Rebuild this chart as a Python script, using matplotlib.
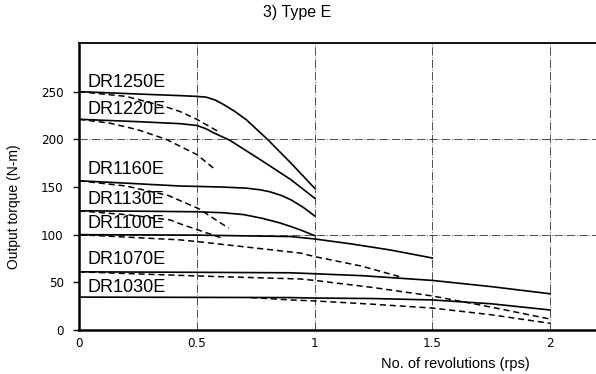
import matplotlib.pyplot as plt

# Torque curves (x = rps, y = N-m)
models = ['DR1250E', 'DR1220E', 'DR1160E', 'DR1130E', 'DR1100E', 'DR1070E', 'DR1030E']

x_1250 = [0, 0.25, 0.43, 0.5, 0.54, 0.58, 0.61, 0.66, 0.71, 0.8, 0.9, 1.0]
t_1250 = [250, 247.5, 245.8, 245, 244.2, 241, 237, 229.5, 220.6, 200, 175, 148.8]
x_1250d = [0, 0.2, 0.37, 0.43, 0.5, 0.6]
t_1250d = [250, 245, 234, 229, 221, 207]

x_1220 = [0, 0.25, 0.43, 0.5, 0.54, 0.57, 0.64, 0.78, 0.9, 1.0]
t_1220 = [221, 218.5, 216.4, 214.5, 211, 207, 199, 177, 157.6, 138.3]
x_1220d = [0, 0.13, 0.25, 0.37, 0.43, 0.5, 0.57]
t_1220d = [221, 217, 210, 200, 192.6, 184, 170]

x_1160 = [0, 0.2, 0.43, 0.6, 0.71, 0.77, 0.81, 0.86, 0.9, 0.95, 1.0]
t_1160 = [156.5, 154, 151, 150, 148.8, 147, 145, 141, 136.5, 129, 119.7]
x_1160d = [0, 0.2, 0.38, 0.51, 0.635]
t_1160d = [156.5, 151, 141, 127, 106.8]

x_1130 = [0, 0.3, 0.5, 0.61, 0.7, 0.78, 0.85, 0.9, 0.95, 1.0]
t_1130 = [125, 124.5, 124, 123, 121, 117, 112.5, 108.5, 104, 99]
x_1130d = [0, 0.2, 0.386, 0.43, 0.6]
t_1130d = [125, 121, 115.5, 111.3, 97]

x_1100 = [0, 0.5, 0.9, 1.0, 1.15, 1.32, 1.5]
t_1100 = [100, 99.5, 98, 95.5, 90.5, 84, 75.5]
x_1100d = [0, 0.43, 0.5, 0.82, 0.94, 1.0, 1.2, 1.36]
t_1100d = [100, 94.5, 92.8, 84, 80.7, 77, 67, 56]

x_1070 = [0, 0.5, 0.9, 1.2, 1.5, 1.75, 2.0]
t_1070 = [61, 60.5, 60, 57, 52, 45.5, 38]
x_1070d = [0, 0.5, 0.94, 1.0, 1.25, 1.5, 1.75, 2.0]
t_1070d = [61, 56.7, 53.5, 52, 44.5, 35.7, 24, 11.5]

x_1030 = [0, 0.9, 1.0, 1.25, 1.5, 1.75, 2.0]
t_1030 = [34.5, 34, 33.5, 33, 31.5, 27.5, 21]
x_1030d = [0.73, 0.9, 1.0, 1.25, 1.5, 1.75, 2.0]
t_1030d = [34, 31.5, 30.5, 27, 23, 16, 7]

label_y = [259.5, 231, 168, 136.5, 112, 73.5, 45]

x_ticks = [0, 0.5, 1, 1.5, 2]
x_ticklabels = ['0', '0.5', '1', '1.5', '2']
y_ticks = [0, 50, 100, 150, 200, 250]

solid = [(x_1250, t_1250), (x_1220, t_1220), (x_1160, t_1160), (x_1130, t_1130),
         (x_1100, t_1100), (x_1070, t_1070), (x_1030, t_1030)]
dashed = [(x_1250d, t_1250d), (x_1220d, t_1220d), (x_1160d, t_1160d), (x_1130d, t_1130d),
          (x_1100d, t_1100d), (x_1070d, t_1070d), (x_1030d, t_1030d)]

plt.rcParams['font.family'] = ['Liberation Sans', 'DejaVu Sans']

fig = plt.figure(figsize=(5.96, 3.74), dpi=100)
ax = fig.add_axes([79 / 596, 1 - 330 / 374, 1 - 79 / 596 + 0.002, (330 - 43) / 374])

# grid lines
grid_style = dict(color='#333333', lw=0.6, ls=(0, (10, 2, 1, 2)), zorder=1)
for gx in [0.5, 1, 1.5, 2]:
    ax.axvline(gx, **grid_style)
for gy in [100, 200]:
    ax.axhline(gy, **grid_style)

for x, y in solid:
    ax.plot(x, y, color='black', lw=1.2, zorder=3, solid_joinstyle='round')
for x, y in dashed:
    ax.plot(x, y, color='black', lw=1.1, ls=(0, (4, 2.5)), zorder=3)

for name, ly in zip(models, label_y):
    ax.text(0.034, ly, name, fontsize=13, va='center', ha='left', zorder=4)

ax.set_xlim(0, 2.2)
ax.set_ylim(0, 301)
ax.set_xticks(x_ticks)
ax.set_xticklabels(x_ticklabels, family='DejaVu Sans', fontstretch='condensed',
                   fontsize=9.5)
ax.set_yticks(y_ticks)
ax.set_yticklabels([str(v) for v in y_ticks], family='DejaVu Sans',
                   fontstretch='condensed', fontsize=9.5)
ax.tick_params(axis='x', length=0, pad=5)
ax.tick_params(axis='y', length=4, width=1, pad=7)

ax.spines['right'].set_visible(False)
ax.spines['left'].set_linewidth(1.8)
ax.spines['bottom'].set_linewidth(1.8)
ax.spines['top'].set_linewidth(1.3)

fig.text(297 / 596, 1 - 12 / 374, '3) Type E', fontsize=11.5, ha='center', va='center')
fig.text(14 / 596, 1 - 207 / 374, 'Output torque (N-m)', fontsize=10, rotation=90,
         ha='center', va='center')
fig.text(455 / 596, 1 - 364 / 374, 'No. of revolutions (rps)', fontsize=10.5,
         ha='center', va='center')

fig.savefig('out.png', dpi=100)
